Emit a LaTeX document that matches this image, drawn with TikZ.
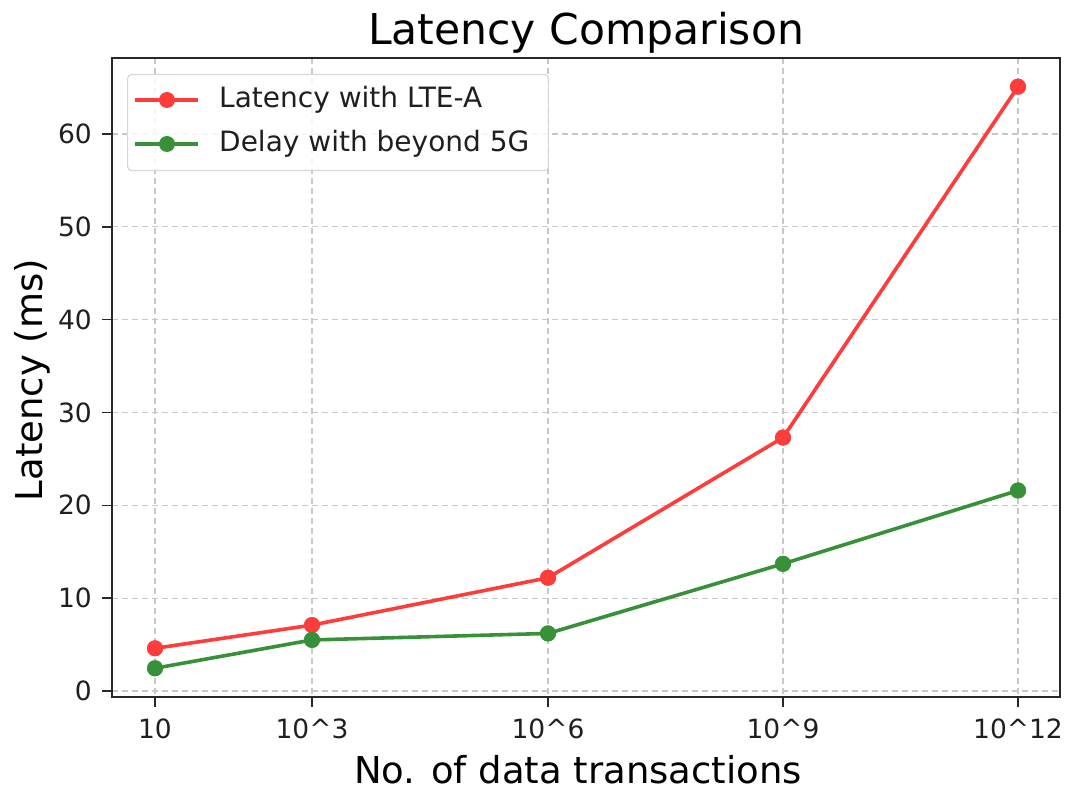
\documentclass[tikz,border=0pt]{standalone}
\usepackage{fontspec}
\setmainfont{DejaVu Sans}
\definecolor{redl}{RGB}{255,60,60}
\definecolor{greenl}{RGB}{56,145,56}
\definecolor{frame}{RGB}{40,40,40}
\definecolor{gridc}{RGB}{200,200,200}
\definecolor{legb}{RGB}{215,215,215}
\tikzset{
  gridline/.style={gridc, line width=1.2pt, dash pattern=on 6pt off 4pt},
  ticktxt/.style={font=\fontsize{26.5}{28}\selectfont, text=black!88, inner sep=0pt},
  mk/.style={circle, inner sep=0pt, minimum size=16pt},
  rmk/.style={mk, fill=redl},
  gmk/.style={mk, fill=greenl},
  rline/.style={redl, line width=3.6pt},
  gline/.style={greenl, line width=3.6pt},
}
\begin{document}
\begin{tikzpicture}[x=1pt,y=-1pt]
\useasboundingbox (0,0) rectangle (1069,791);
% grid
\foreach \gx in {155,312,548,783,1018} \draw[gridline] (\gx,58) -- (\gx,697);
\foreach \v in {0,10,20,30,40,50,60} \draw[gridline] (112,{691-9.283*\v}) -- (1060,{691-9.283*\v});
% ticks and tick labels
\foreach \gx/\lab in {155/10,312/10\textasciicircum 3,548/10\textasciicircum 6,783/10\textasciicircum 9,1018/10\textasciicircum 12} {
  \draw[frame, line width=1.4pt] (\gx,697) -- (\gx,707);
  \node[ticktxt, anchor=base] at (\gx,738) {\lab};
}
\foreach \v in {0,10,20,30,40,50,60} {
  \draw[frame, line width=1.4pt] (102,{691-9.283*\v}) -- (112,{691-9.283*\v});
  \node[ticktxt, anchor=east] at (92,{691-9.283*\v}) {\v};
}
% data
\node[rmk] (r1) at (155,{691-9.283*4.6}) {};
\node[rmk] (r2) at (312,{691-9.283*7.1}) {};
\node[rmk] (r3) at (548,{691-9.283*12.2}) {};
\node[rmk] (r4) at (783,{691-9.283*27.3}) {};
\node[rmk] (r5) at (1018,{691-9.283*65.1}) {};
\node[gmk] (g1) at (155,{691-9.283*2.45}) {};
\node[gmk] (g2) at (312,{691-9.283*5.5}) {};
\node[gmk] (g3) at (548,{691-9.283*6.2}) {};
\node[gmk] (g4) at (783,{691-9.283*13.7}) {};
\node[gmk] (g5) at (1018,{691-9.283*21.6}) {};
\draw[rline, line join=round] (r1.center) -- (r2.center) -- (r3.center) -- (r4.center) -- (r5.center);
\draw[gline, line join=round] (g1.center) -- (g2.center) -- (g3.center) -- (g4.center) -- (g5.center);
\foreach \n in {r1,r2,r3,r4,r5} \fill[redl] (\n) circle (8pt);
\foreach \n in {g1,g2,g3,g4,g5} \fill[greenl] (\n) circle (8pt);
% frame
\draw[frame, line width=1.6pt] (112,58) rectangle (1060,697);
% legend
\node[draw=legb, fill=white, fill opacity=0.85, rounded corners=4pt, line width=1.2pt, minimum width=421pt, minimum height=96pt, anchor=north west] (leg) at (127,74) {};
\draw[rline] (135,100) -- (198,100);
\node[rmk] (lr) at (167,100) {};
\node[anchor=west, inner sep=0pt, font=\fontsize{28}{30}\selectfont, text=black!88] (lt1) at (219,100) {Latency with LTE-A};
\draw[gline] (135,144) -- (198,144);
\node[gmk] (lg) at (167,144) {};
\node[anchor=west, inner sep=0pt, font=\fontsize{28}{30}\selectfont, text=black!88] (lt2) at (219,144) {Delay with beyond 5G};
% titles
\node[font=\fontsize{42.5}{44}\selectfont, anchor=base, inner sep=0pt] (title) at (586,45) {Latency Comparison};
\node[font=\fontsize{37}{40}\selectfont, anchor=base, inner sep=0pt] (xl) at (578,783) {No. of data transactions};
\node[font=\fontsize{37}{40}\selectfont, anchor=base, inner sep=0pt, rotate=90] (yl) at (42,380) {Latency (ms)};
\end{tikzpicture}
\end{document}
